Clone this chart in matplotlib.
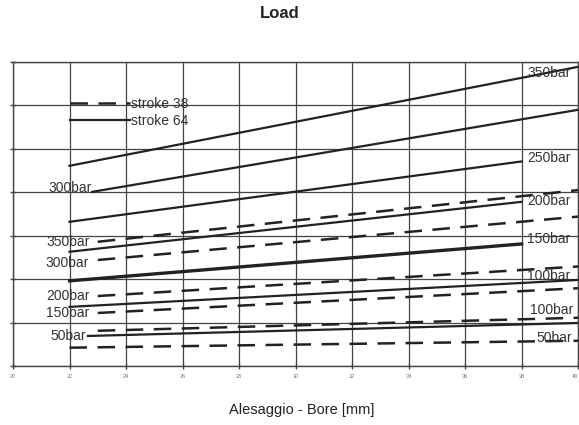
import matplotlib
matplotlib.use("Agg")
import matplotlib.pyplot as plt

plt.rcParams['font.family'] = ['Liberation Sans', 'DejaVu Sans']

# stroke 64 (solid lines): one entry per pressure
p64 = [350, 300, 250, 200, 150, 100, 50]
bore64_start = [22.0, 22.8, 22.0, 22.0, 22.0, 22.0, 22.65]
bore64_end = [40.0, 40.0, 38.0, 38.0, 38.0, 40.0, 40.0]
load64_start = [46.1, 40.1, 33.2, 26.3, 19.6, 13.6, 6.9]
load64_end = [68.9, 59.0, 47.1, 37.8, 28.1, 19.8, 9.9]

# stroke 38 (dashed lines)
p38 = [350, 300, 200, 150, 100, 50]
bore38_start = [23.0, 23.0, 23.0, 23.0, 23.0, 22.0]
bore38_end = [40.0, 40.0, 40.0, 40.0, 40.0, 40.0]
load38_start = [28.6, 24.4, 16.1, 12.2, 8.1, 4.2]
load38_end = [40.5, 34.4, 22.9, 17.9, 11.1, 5.8]

xticks = list(range(20, 41, 2))
yticks = list(range(0, 71, 10))

# pressure labels (text, bore, load)
labels = [
    ("350bar", 38.19, 67.5), ("250bar", 38.19, 47.9), ("200bar", 38.19, 38.1),
    ("150bar", 38.19, 29.25), ("100bar", 38.19, 20.6), ("100bar", 38.30, 12.9),
    ("50bar", 38.51, 6.45),
    ("300bar", 21.24, 41.0), ("350bar", 21.17, 28.6), ("300bar", 21.13, 23.8),
    ("200bar", 21.17, 16.1), ("150bar", 21.17, 12.3), ("50bar", 21.31, 7.0),
]

ink = '#222222'
fig = plt.figure(figsize=(5.79, 4.25), dpi=100)
ax = fig.add_axes([0.0225, 0.139, 0.976, 0.715])

for i in range(len(p38)):
    ax.plot([bore38_start[i], bore38_end[i]], [load38_start[i], load38_end[i]],
            color=ink, lw=1.8, linestyle=(0, (7, 4.2)), solid_capstyle='butt',
            label='stroke 38' if i == 0 else None)
for i in range(len(p64)):
    lw = 2.4 if p64[i] == 150 else 1.6
    ax.plot([bore64_start[i], bore64_end[i]], [load64_start[i], load64_end[i]],
            color=ink, lw=lw, label='stroke 64' if i == 0 else None)

for txt, x, y in labels:
    ax.text(x, y, txt, ha='left', va='center', fontsize=10, color='#333333')

ax.set_xlim(20, 40)
ax.set_ylim(0, 70)
ax.set_xticks(xticks)
ax.set_yticks(yticks)
ax.set_xticklabels([str(t) for t in xticks], fontsize=4, color='#777777')
ax.get_xticklabels()[-1].set_ha('right')
ax.set_yticklabels([])
ax.tick_params(direction='inout', length=5, width=1, color='#444444', pad=3)
ax.grid(True, color='#444444', lw=0.9)
for s in ax.spines.values():
    s.set_color('#444444')
    s.set_linewidth(1.0)

ax.legend(loc='upper left', bbox_to_anchor=(0.1009, 0.884), frameon=False,
          fontsize=10, handlelength=4.3, handletextpad=0.1, labelspacing=0.22,
          borderpad=0, borderaxespad=0, labelcolor='#333333')

fig.text(280 / 579, 1 - 14 / 425, 'Load', ha='center', va='center',
         fontsize=12, fontweight='bold', color='#222222')
fig.text(302 / 579, 1 - 410 / 425, 'Alesaggio - Bore [mm]', ha='center',
         va='center', fontsize=10.5, color='#222222')

fig.savefig('out.png', dpi=100)
